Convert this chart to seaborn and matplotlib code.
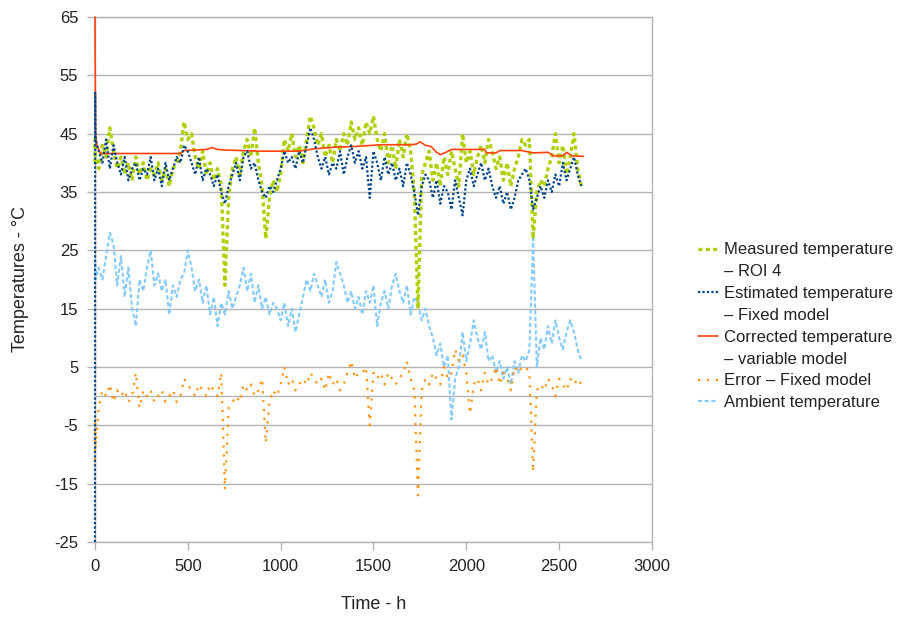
import matplotlib
matplotlib.use('Agg')
import matplotlib.pyplot as plt
import seaborn as sns
from matplotlib.lines import Line2D

# sampling grid (hours) for the noisy series
hours = [0, 1, 3] + list(range(20, 2640, 20))

measured = [40, 44, 41,
    39, 43, 41, 46, 42, 39, 41, 38, 40, 37,
    41, 38, 40, 37, 39, 38, 40, 37, 39, 36,
    39, 40, 42, 47, 44, 45, 41, 39, 42, 38,
    40, 37, 39, 36, 19, 34, 39, 41, 38, 42,
    44, 41, 46, 40, 36, 27, 34, 37, 35, 38,
    44, 42, 45, 41, 43, 40, 44, 48, 46, 43,
    45, 41, 43, 40, 44, 42, 45, 43, 47, 44,
    46, 43, 47, 45, 48, 44, 42, 45, 40, 43,
    39, 44, 41, 45, 42, 35, 15, 38, 40, 42,
    37, 40, 36, 41, 38, 42, 39, 36, 45, 40,
    42, 38, 41, 43, 40, 44, 42, 39, 41, 37,
    40, 36, 39, 41, 44, 43, 44, 27, 35, 37,
    36, 39, 41, 45, 40, 43, 38, 41, 45, 39,
    36]

estimated = [-25, 52, 44,
    42, 40, 44, 39, 43, 40, 38, 41, 37, 39,
    40, 37, 39, 38, 41, 37, 39, 36, 40, 37,
    39, 41, 40, 43, 42, 40, 38, 41, 37, 39,
    38, 36, 38, 35, 33, 36, 38, 40, 37, 41,
    42, 39, 40, 37, 35, 34, 36, 35, 37, 39,
    42, 40, 41, 39, 42, 40, 43, 46, 44, 41,
    39, 41, 38, 40, 39, 42, 38, 41, 43, 40,
    42, 39, 41, 34, 42, 40, 37, 41, 38, 40,
    37, 39, 36, 40, 38, 35, 31, 36, 38, 37,
    34, 37, 33, 36, 35, 32, 37, 34, 31, 37,
    39, 36, 38, 40, 37, 39, 36, 34, 36, 33,
    35, 32, 34, 37, 38, 39, 37, 32, 34, 36,
    34, 37, 35, 38, 36, 40, 37, 39, 41, 38,
    36]

error = [-11, -4, -9,
    -2, 1, 0, 2, -1, 1, 0, 1, -1, 0,
    4, -2, 1, 0, 1, -1, 0, 1, -1, 0,
    1, -1, 0, 3, 2, 1, 0, 2, 1, 0,
    2, 1, 0, 4, -16, -2, -1, 0, -1, 2,
    1, 2, 0, 1, 3, -8, -1, 1, 0, 2,
    5, 2, 3, 1, 2, 3, 2, 4, 3, 2,
    3, 1, 4, 2, 3, 1, 2, 4, 6, 3,
    4, 4, 5, -5, 4, 3, 4, 2, 4, 3,
    2, 3, 4, 6, 3, 1, -17, 1, 3, 2,
    4, 3, 2, 5, 3, 4, 8, 6, 7, 4,
    -3, 2, 3, 1, 4, 2, 3, 5, 2, 4,
    3, 1, 5, 4, 5, 5, 4, -13, 1, 2,
    1, 3, 2, 0, 3, 2, 1, 3, 2, 3,
    2]

ambient = [21, 23, 20,
    22, 20, 24, 28, 26, 19, 24, 17, 22, 15,
    12, 20, 18, 22, 25, 19, 21, 18, 20, 14,
    19, 17, 20, 21, 25, 22, 18, 20, 16, 19,
    14, 17, 12, 16, 14, 18, 15, 17, 19, 22,
    18, 21, 16, 19, 15, 17, 14, 16, 15, 13,
    16, 12, 15, 11, 14, 17, 20, 18, 21, 19,
    17, 20, 16, 18, 23, 21, 19, 16, 18, 15,
    17, 14, 18, 16, 19, 12, 16, 18, 15, 19,
    21, 18, 16, 19, 14, 17, 16, 13, 15, 12,
    10, 7, 9, 5, 7, -4, 3, 5, 11, 6,
    9, 13, 10, 8, 11, 6, 7, 4, 6, 3,
    5, 2, 6, 4, 7, 6, 8, 27, 5, 10,
    8, 12, 9, 13, 10, 8, 11, 13, 11, 8,
    6]

# corrected model is almost flat, so fewer points
corr_hours = [0, 3, 10, 30, 460, 480, 600, 630, 660, 700, 880, 1100, 1180, 1220,
              1300, 1400, 1540, 1700, 1730, 1750, 1780, 1810, 1840, 1860, 1890, 1920,
              2100, 2110, 2160, 2180, 2300, 2360, 2440, 2470, 2520, 2540, 2570, 2630]
corrected = [65, 45, 43, 41.6, 41.6, 42.1, 42.3, 42.6, 42.3, 42.2, 42.0, 42.0, 42.4, 42.5,
             42.7, 42.8, 43.1, 43.1, 43.2, 43.6, 43.0, 42.8, 41.8, 41.4, 41.8, 42.3,
             42.3, 41.7, 41.7, 42.1, 42.1, 41.7, 41.8, 41.2, 41.2, 41.8, 41.2, 41.1]

c_meas = '#aecf00'
c_est = '#004586'
c_corr = '#ff420e'
c_err = '#ff950e'
c_amb = '#83caff'
grey = '#b3b3b3'

sns.set_theme(style='white')
plt.rcParams['font.family'] = ['Liberation Sans', 'DejaVu Sans']
plt.rcParams['axes.unicode_minus'] = False

fig, ax = plt.subplots(figsize=(9.08, 6.18), dpi=100)
fig.subplots_adjust(left=0.1046, right=0.718, top=0.9725, bottom=0.123)

st_meas = dict(color=c_meas, lw=2.4, ls=(0, (1.2, 1.0)))
st_est = dict(color=c_est, lw=1.6, ls=(0, (1.0, 1.0)))
st_corr = dict(color=c_corr, lw=1.2, ls='-')
st_err = dict(color=c_err, lw=1.6, ls=(0, (1.0, 3.0)))
st_amb = dict(color=c_amb, lw=1.5, ls=(0, (2.0, 1.2)))

# data drawn over the spines, like the original (first hours sit on the y axis)
sns.lineplot(x=hours, y=ambient, ax=ax, estimator=None, zorder=3, clip_on=False, **st_amb)
sns.lineplot(x=hours, y=error, ax=ax, estimator=None, zorder=3, clip_on=False, **st_err)
sns.lineplot(x=hours, y=measured, ax=ax, estimator=None, zorder=3, clip_on=False, **st_meas)
sns.lineplot(x=corr_hours, y=corrected, ax=ax, estimator=None, zorder=3, clip_on=False, **st_corr)
sns.lineplot(x=hours, y=estimated, ax=ax, estimator=None, zorder=3, clip_on=False, **st_est)

ax.set_xlim(0, 3000)
ax.set_ylim(-25, 65)
ax.set_xticks(range(0, 3001, 500))
ax.set_yticks(range(-25, 66, 10))
ax.yaxis.grid(True, color=grey, lw=1)
ax.xaxis.grid(False)
ax.set_axisbelow(True)
ax.axhline(0, color=grey, lw=1, zorder=0.5)
for s in ax.spines.values():
    s.set_color(grey)
    s.set_linewidth(1)
ax.tick_params(axis='both', which='major', bottom=True, left=True, direction='out',
               length=6, width=1, color=grey, labelsize=12, labelcolor='#222222', pad=6)

ax.set_xlabel('Time - h', fontsize=13, color='#222222', labelpad=16)
ax.set_ylabel('Temperatures - °C', fontsize=13, color='#222222', labelpad=18)

blank = Line2D([], [], color='none')
handles = [Line2D([], [], **st_meas), blank,
           Line2D([], [], **st_est), blank,
           Line2D([], [], **st_corr), blank,
           Line2D([], [], **st_err),
           Line2D([], [], **st_amb)]
labels = ['Measured temperature', '– ROI 4',
          'Estimated temperature', '– Fixed model',
          'Corrected temperature', '– variable model',
          'Error – Fixed model',
          'Ambient temperature']
fig.legend(handles=handles, labels=labels, loc='center left',
           bbox_to_anchor=(0.752, 0.472), frameon=False, fontsize=12,
           handlelength=1.2, handletextpad=0.4, labelspacing=0.41,
           labelcolor='#222222')

fig.savefig('out.png', dpi=100)
